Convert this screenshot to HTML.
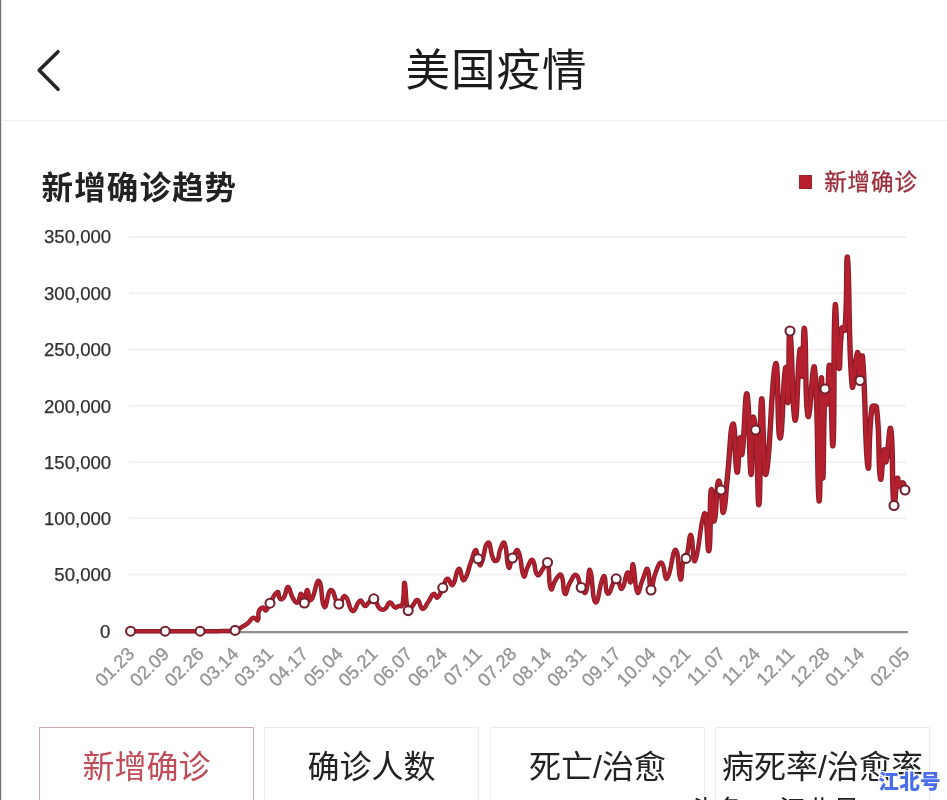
<!DOCTYPE html>
<html lang="zh-CN">
<head>
<meta charset="utf-8">
<title>美国疫情</title>
<style>
html,body{margin:0;padding:0;background:#fff;}
body{width:947px;height:800px;position:relative;overflow:hidden;font-family:"Liberation Sans","Noto Sans CJK SC",sans-serif;color:#222;}
.abs{position:absolute;white-space:nowrap;}
#leftedge{left:0;top:0;width:3px;height:800px;background:linear-gradient(90deg,#6e6e6e 0,#757575 1px,#dcdcdc 1.4px,#f6f6f6 2.2px,#fff 3px);}
#hdr{left:0;top:0;width:947px;height:120px;border-bottom:1.4px solid #eeeeee;}
#title{left:0;width:947px;top:39.1px;text-align:center;font-size:44.5px;line-height:64px;font-weight:400;color:#1c1c1c;letter-spacing:1px;padding-left:46px;box-sizing:border-box;}
#ctitle{left:41.6px;top:164.4px;font-size:31.5px;line-height:48px;font-weight:700;color:#222;letter-spacing:1.1px;}
#legend{left:824.2px;top:165.2px;font-size:22.5px;line-height:36px;color:#9a2d3a;letter-spacing:0.9px;-webkit-text-stroke:0.3px #9a2d3a;}
#legsq{left:798.6px;top:175.3px;width:13.5px;height:13.8px;background:#b8202e;box-shadow:inset 0 0 0 1px #a3212d;}
.tab{top:727px;height:90px;width:213px;border:1px solid #ececec;box-sizing:content-box;text-align:center;font-size:32px;line-height:78.6px;color:#222;background:#fff;}
.tab.on{border-color:#d3a8aa;color:#bf4c56;}
#wm{left:878.3px;top:764.8px;font-size:20.6px;line-height:34px;font-weight:900;color:#4a6eea;letter-spacing:0.3px;text-shadow:1.2px 0 0 #fff,-1.2px 0 0 #fff,0 1.2px 0 #fff,0 -1.2px 0 #fff,0.9px 0.9px 0 #fff,-0.9px 0.9px 0 #fff,0.9px -0.9px 0 #fff,-0.9px -0.9px 0 #fff;}
#foot{left:690px;top:793px;font-size:27px;line-height:36px;color:#222;}
svg{position:absolute;left:0;top:0;}
.yl{font-size:18.6px;fill:#2f2f2f;stroke:#2f2f2f;stroke-width:0.25px;text-anchor:end;font-family:"Liberation Sans",sans-serif;}
.xl{font-size:18.5px;fill:#959595;stroke:#959595;stroke-width:0.35px;text-anchor:end;font-family:"Liberation Sans",sans-serif;}
</style>
</head>
<body>
<div class="abs" id="hdr"></div>
<div class="abs" id="leftedge"></div>
<div class="abs" id="title">美国疫情</div>
<div class="abs" id="ctitle">新增确诊趋势</div>
<div class="abs" id="legsq"></div>
<div class="abs" id="legend">新增确诊</div>

<svg width="947" height="800" viewBox="0 0 947 800">
  <path d="M58 51.7 L39.2 70.2 L58 89.3" fill="none" stroke="#262626" stroke-width="3.6" stroke-linecap="round" stroke-linejoin="round"/>
  <g stroke="#f1f1f1" stroke-width="2">
    <line x1="129" x2="906" y1="237" y2="237"/>
    <line x1="129" x2="906" y1="293.3" y2="293.3"/>
    <line x1="129" x2="906" y1="349.5" y2="349.5"/>
    <line x1="129" x2="906" y1="405.8" y2="405.8"/>
    <line x1="129" x2="906" y1="462.3" y2="462.3"/>
    <line x1="129" x2="906" y1="518.3" y2="518.3"/>
    <line x1="129" x2="906" y1="574.6" y2="574.6"/>
  </g>
  <line x1="129" x2="908" y1="632.2" y2="632.2" stroke="#8e8e8e" stroke-width="2.3"/>
  <g class="yl">
    <text x="111.2" y="243.4">350,000</text>
    <text x="111.2" y="299.7">300,000</text>
    <text x="111.2" y="355.9">250,000</text>
    <text x="111.2" y="412.5">200,000</text>
    <text x="111.2" y="468.9">150,000</text>
    <text x="111.2" y="525.1">100,000</text>
    <text x="111.2" y="581.4">50,000</text>
    <text x="110.4" y="638.3">0</text>
  </g>
  <g class="xl">
    <text x="135.5" y="655.0" transform="rotate(-45 135.5 655.0)">01.23</text>
    <text x="170.3" y="655.0" transform="rotate(-45 170.3 655.0)">02.09</text>
    <text x="205.0" y="655.0" transform="rotate(-45 205.0 655.0)">02.26</text>
    <text x="239.8" y="655.0" transform="rotate(-45 239.8 655.0)">03.14</text>
    <text x="274.5" y="655.0" transform="rotate(-45 274.5 655.0)">03.31</text>
    <text x="309.3" y="655.0" transform="rotate(-45 309.3 655.0)">04.17</text>
    <text x="344.1" y="655.0" transform="rotate(-45 344.1 655.0)">05.04</text>
    <text x="378.8" y="655.0" transform="rotate(-45 378.8 655.0)">05.21</text>
    <text x="413.6" y="655.0" transform="rotate(-45 413.6 655.0)">06.07</text>
    <text x="448.3" y="655.0" transform="rotate(-45 448.3 655.0)">06.24</text>
    <text x="483.1" y="655.0" transform="rotate(-45 483.1 655.0)">07.11</text>
    <text x="517.9" y="655.0" transform="rotate(-45 517.9 655.0)">07.28</text>
    <text x="552.6" y="655.0" transform="rotate(-45 552.6 655.0)">08.14</text>
    <text x="587.4" y="655.0" transform="rotate(-45 587.4 655.0)">08.31</text>
    <text x="622.1" y="655.0" transform="rotate(-45 622.1 655.0)">09.17</text>
    <text x="656.9" y="655.0" transform="rotate(-45 656.9 655.0)">10.04</text>
    <text x="691.7" y="655.0" transform="rotate(-45 691.7 655.0)">10.21</text>
    <text x="726.4" y="655.0" transform="rotate(-45 726.4 655.0)">11.07</text>
    <text x="761.2" y="655.0" transform="rotate(-45 761.2 655.0)">11.24</text>
    <text x="795.9" y="655.0" transform="rotate(-45 795.9 655.0)">12.11</text>
    <text x="830.7" y="655.0" transform="rotate(-45 830.7 655.0)">12.28</text>
    <text x="865.5" y="655.0" transform="rotate(-45 865.5 655.0)">01.14</text>
    <text x="910.5" y="655.0" transform="rotate(-45 910.5 655.0)">02.05</text>

  </g>
  <g fill="none" stroke-linejoin="round" stroke-linecap="round">
    <path d="M130.6 631.2C130.6 631.2 138.8 631.2 147.0 631.2C156.1 631.2 156.1 631.2 165.2 631.2C173.6 631.2 173.6 631.2 182.0 631.2C191.1 631.2 191.1 631.2 200.1 631.2C209.1 631.2 209.1 631.2 218.0 631.2C226.6 631.0 226.9 631.2 235.1 630.4C239.4 629.6 239.2 628.5 243.1 626.3C245.4 625.0 245.5 625.1 247.5 623.5C250.7 620.8 250.3 618.7 253.6 617.7C255.5 617.1 256.9 621.4 257.8 620.2C259.6 618.0 257.3 615.0 259.0 611.0C260.0 608.7 261.2 607.8 263.2 607.6C264.6 607.5 264.8 611.1 265.9 610.4C268.2 608.9 267.8 606.7 270.0 603.2C273.6 597.5 274.2 593.5 277.5 592.0C279.2 591.2 278.0 597.0 280.0 598.8C281.1 599.7 282.7 599.0 283.8 597.5C286.7 593.1 285.8 587.0 288.0 587.0C290.2 587.0 289.6 592.7 292.5 597.5C294.3 600.5 295.7 603.3 297.5 602.5C299.9 601.4 299.3 593.6 301.0 593.8C302.8 593.9 303.1 603.8 304.4 603.0C306.1 601.9 305.2 590.8 307.0 590.0C308.5 589.3 309.0 601.5 311.0 600.0C314.9 597.0 315.9 579.5 318.8 581.0C322.6 583.0 320.8 604.3 324.4 607.0C326.9 608.8 327.2 590.8 331.0 590.0C334.4 589.3 334.4 602.1 338.8 604.0C341.4 605.2 342.4 594.9 345.0 596.2C349.4 598.4 348.5 609.8 352.8 611.0C356.1 611.9 356.3 602.1 360.2 600.5C362.4 599.6 362.5 605.4 365.0 606.0C366.8 606.4 366.8 604.1 368.8 602.5C371.2 600.5 371.8 597.7 373.8 598.8C377.4 600.8 376.0 605.2 380.0 608.8C381.7 610.2 383.1 610.0 385.0 608.8C388.1 606.8 387.3 602.8 390.0 602.5C392.3 602.2 392.2 606.4 395.0 607.5C396.7 608.2 396.9 606.5 399.0 606.0C400.5 605.6 401.9 607.0 402.2 605.6C404.7 595.4 403.3 581.7 404.6 582.8C406.3 584.2 405.0 601.1 408.2 610.6C408.9 612.7 410.4 608.4 412.5 606.0C415.1 603.1 415.3 599.4 417.5 600.0C420.3 600.8 419.7 608.5 422.5 608.8C425.3 609.0 425.8 605.0 428.8 601.0C431.4 597.5 431.0 594.8 433.8 593.8C435.4 593.1 436.0 598.5 437.5 597.5C440.5 595.5 440.1 592.6 442.8 587.8C445.1 583.3 444.8 579.5 447.5 578.8C449.6 578.1 450.7 586.6 452.5 585.0C456.4 581.6 455.5 570.2 458.8 568.8C461.1 567.7 461.4 581.4 463.8 580.0C467.6 577.7 467.5 570.6 471.2 561.2C473.5 555.6 473.7 550.7 475.6 550.0C477.0 549.5 476.6 554.5 478.0 558.8C479.1 562.0 479.5 566.8 480.6 565.0C484.5 558.7 484.3 543.9 488.0 542.5C490.9 541.4 489.8 552.7 493.8 560.0C494.6 561.5 496.7 561.3 497.5 560.0C499.8 556.3 498.1 554.7 500.0 550.0C501.5 546.2 503.3 540.8 504.4 543.0C507.7 549.6 505.9 562.2 508.8 567.5C509.9 569.7 510.1 562.4 512.5 558.0C514.7 554.0 516.5 548.2 518.0 550.6C522.2 557.4 520.3 570.0 523.8 576.2C525.0 578.5 525.3 571.7 527.5 567.5C529.6 563.5 530.7 558.6 532.5 560.0C535.7 562.4 534.0 572.7 537.5 575.0C539.6 576.4 540.7 571.3 543.8 567.5C545.7 565.1 546.8 560.5 547.5 562.5C550.4 571.2 547.9 583.3 551.0 589.0C552.3 591.4 552.9 583.3 556.2 578.8C558.1 576.3 560.2 573.2 561.2 575.0C564.5 580.7 562.3 591.5 565.0 593.8C566.7 595.2 566.9 587.7 570.0 582.5C572.5 578.4 573.9 573.9 576.2 575.0C579.5 576.4 578.1 581.6 581.2 587.5C582.8 590.4 584.6 594.5 585.6 592.5C589.0 585.7 587.9 567.9 590.0 570.0C592.9 572.9 591.9 600.8 595.6 602.5C598.7 603.9 600.0 578.9 603.8 576.2C606.2 574.5 604.8 593.1 608.0 593.8C611.0 594.4 612.1 580.2 616.2 578.8C619.0 577.7 619.6 590.0 621.9 588.8C625.3 586.9 624.8 574.4 627.5 572.5C629.1 571.3 629.6 584.0 630.6 582.5C632.3 579.9 631.7 562.4 633.0 564.4C635.1 567.4 634.3 587.2 637.5 592.5C639.0 595.0 639.9 586.2 642.5 580.0C644.9 574.4 646.0 567.2 647.5 569.0C650.2 572.2 648.8 588.9 651.0 590.0C652.8 590.9 652.3 581.1 655.5 573.0C657.6 567.5 659.2 561.6 661.6 562.8C664.9 564.4 664.4 580.9 666.9 578.6C671.4 574.4 672.2 549.5 675.6 549.7C679.0 549.9 678.1 577.7 680.5 579.5C682.3 580.9 681.6 565.3 684.0 556.0C684.3 554.8 685.6 559.6 686.0 558.4C689.1 549.0 688.8 534.2 690.9 534.8C693.2 535.5 692.5 564.7 694.9 561.0C699.3 554.2 700.5 516.8 704.5 513.8" stroke="#8c1b28" stroke-width="4.5"/>
    <path d="M704.5 513.8C707.5 511.5 707.6 555.0 708.9 550.5C711.0 543.1 709.5 499.7 711.2 490.0C712.1 485.0 712.6 522.8 714.2 521.0C716.2 518.7 715.5 494.4 718.3 481.7C718.9 478.9 720.3 485.7 721.0 490.0C722.8 500.9 722.2 514.7 723.4 512.0C725.4 507.7 725.5 494.0 727.5 476.0C730.3 450.0 730.5 425.0 733.0 424.0C735.3 423.0 735.0 467.9 737.0 472.0C738.5 474.9 738.3 444.1 740.0 438.0C740.8 435.1 741.3 458.6 742.0 454.0C744.8 436.6 745.1 389.7 747.0 394.0C749.6 399.7 749.2 466.9 751.0 474.0C752.2 478.9 751.1 436.0 753.0 418.0C753.4 414.0 755.2 423.9 755.6 430.0C758.2 466.9 757.8 510.4 759.0 504.0C760.8 494.9 759.6 407.7 761.6 399.0C763.1 392.7 763.2 481.1 766.0 474.0C770.2 463.6 771.4 374.8 775.6 364.0C778.4 356.8 777.4 437.0 780.0 438.0C782.4 439.0 782.9 380.1 785.6 368.0C786.9 362.1 787.3 408.0 788.0 402.0C789.5 389.5 788.4 327.0 790.0 331.0C791.9 336.0 792.2 414.7 795.0 420.0C797.2 424.2 797.4 366.0 800.0 350.0C800.9 344.0 801.2 379.7 802.0 376.0C803.4 369.2 803.4 322.0 804.5 329.0C806.4 342.0 804.8 403.5 808.0 416.0C809.8 423.0 813.0 356.7 814.5 368.0C818.5 399.2 817.2 498.4 819.0 501.0C820.7 503.4 820.4 384.3 821.4 378.0C822.3 372.8 821.8 475.1 822.8 478.0C823.6 480.6 823.2 420.6 825.0 389.0C825.3 383.6 826.4 407.3 827.0 404.0C828.6 395.8 828.5 359.4 829.5 366.0C831.5 379.8 832.0 455.7 833.0 444.8C834.8 425.7 833.1 332.5 835.2 306.0C836.1 294.1 836.9 361.3 839.0 368.0C840.3 372.3 839.2 345.4 842.0 328.0C842.2 326.4 844.9 331.7 845.0 330.0C847.6 296.2 846.1 257.0 847.4 257.0C849.7 274.9 848.2 348.2 852.2 386.0C853.2 395.9 855.3 354.0 857.4 352.5C859.2 351.3 858.6 379.3 860.0 380.5C861.2 381.5 861.8 349.4 862.5 357.0C865.8 392.6 864.9 450.6 868.0 467.0C869.7 475.9 868.0 435.2 872.0 407.5C872.3 405.4 876.2 405.4 876.5 407.5C880.5 440.9 877.8 463.4 880.5 478.5C881.6 484.6 882.0 456.0 884.0 450.0C884.8 447.5 885.1 464.4 886.0 461.6C888.5 453.9 889.5 422.4 890.7 429.0C893.5 444.3 891.5 487.2 894.0 505.5C894.9 512.0 895.2 486.1 897.4 478.5C898.0 476.3 897.9 484.6 899.7 486.0C900.7 486.8 902.0 482.2 903.0 483.0C904.6 484.2 905.0 490.0 905.0 490.0" stroke="#8c1b28" stroke-width="5.4"/>
    <path d="M130.6 631.2C130.6 631.2 138.8 631.2 147.0 631.2C156.1 631.2 156.1 631.2 165.2 631.2C173.6 631.2 173.6 631.2 182.0 631.2C191.1 631.2 191.1 631.2 200.1 631.2C209.1 631.2 209.1 631.2 218.0 631.2C226.6 631.0 226.9 631.2 235.1 630.4C239.4 629.6 239.2 628.5 243.1 626.3C245.4 625.0 245.5 625.1 247.5 623.5C250.7 620.8 250.3 618.7 253.6 617.7C255.5 617.1 256.9 621.4 257.8 620.2C259.6 618.0 257.3 615.0 259.0 611.0C260.0 608.7 261.2 607.8 263.2 607.6C264.6 607.5 264.8 611.1 265.9 610.4C268.2 608.9 267.8 606.7 270.0 603.2C273.6 597.5 274.2 593.5 277.5 592.0C279.2 591.2 278.0 597.0 280.0 598.8C281.1 599.7 282.7 599.0 283.8 597.5C286.7 593.1 285.8 587.0 288.0 587.0C290.2 587.0 289.6 592.7 292.5 597.5C294.3 600.5 295.7 603.3 297.5 602.5C299.9 601.4 299.3 593.6 301.0 593.8C302.8 593.9 303.1 603.8 304.4 603.0C306.1 601.9 305.2 590.8 307.0 590.0C308.5 589.3 309.0 601.5 311.0 600.0C314.9 597.0 315.9 579.5 318.8 581.0C322.6 583.0 320.8 604.3 324.4 607.0C326.9 608.8 327.2 590.8 331.0 590.0C334.4 589.3 334.4 602.1 338.8 604.0C341.4 605.2 342.4 594.9 345.0 596.2C349.4 598.4 348.5 609.8 352.8 611.0C356.1 611.9 356.3 602.1 360.2 600.5C362.4 599.6 362.5 605.4 365.0 606.0C366.8 606.4 366.8 604.1 368.8 602.5C371.2 600.5 371.8 597.7 373.8 598.8C377.4 600.8 376.0 605.2 380.0 608.8C381.7 610.2 383.1 610.0 385.0 608.8C388.1 606.8 387.3 602.8 390.0 602.5C392.3 602.2 392.2 606.4 395.0 607.5C396.7 608.2 396.9 606.5 399.0 606.0C400.5 605.6 401.9 607.0 402.2 605.6C404.7 595.4 403.3 581.7 404.6 582.8C406.3 584.2 405.0 601.1 408.2 610.6C408.9 612.7 410.4 608.4 412.5 606.0C415.1 603.1 415.3 599.4 417.5 600.0C420.3 600.8 419.7 608.5 422.5 608.8C425.3 609.0 425.8 605.0 428.8 601.0C431.4 597.5 431.0 594.8 433.8 593.8C435.4 593.1 436.0 598.5 437.5 597.5C440.5 595.5 440.1 592.6 442.8 587.8C445.1 583.3 444.8 579.5 447.5 578.8C449.6 578.1 450.7 586.6 452.5 585.0C456.4 581.6 455.5 570.2 458.8 568.8C461.1 567.7 461.4 581.4 463.8 580.0C467.6 577.7 467.5 570.6 471.2 561.2C473.5 555.6 473.7 550.7 475.6 550.0C477.0 549.5 476.6 554.5 478.0 558.8C479.1 562.0 479.5 566.8 480.6 565.0C484.5 558.7 484.3 543.9 488.0 542.5C490.9 541.4 489.8 552.7 493.8 560.0C494.6 561.5 496.7 561.3 497.5 560.0C499.8 556.3 498.1 554.7 500.0 550.0C501.5 546.2 503.3 540.8 504.4 543.0C507.7 549.6 505.9 562.2 508.8 567.5C509.9 569.7 510.1 562.4 512.5 558.0C514.7 554.0 516.5 548.2 518.0 550.6C522.2 557.4 520.3 570.0 523.8 576.2C525.0 578.5 525.3 571.7 527.5 567.5C529.6 563.5 530.7 558.6 532.5 560.0C535.7 562.4 534.0 572.7 537.5 575.0C539.6 576.4 540.7 571.3 543.8 567.5C545.7 565.1 546.8 560.5 547.5 562.5C550.4 571.2 547.9 583.3 551.0 589.0C552.3 591.4 552.9 583.3 556.2 578.8C558.1 576.3 560.2 573.2 561.2 575.0C564.5 580.7 562.3 591.5 565.0 593.8C566.7 595.2 566.9 587.7 570.0 582.5C572.5 578.4 573.9 573.9 576.2 575.0C579.5 576.4 578.1 581.6 581.2 587.5C582.8 590.4 584.6 594.5 585.6 592.5C589.0 585.7 587.9 567.9 590.0 570.0C592.9 572.9 591.9 600.8 595.6 602.5C598.7 603.9 600.0 578.9 603.8 576.2C606.2 574.5 604.8 593.1 608.0 593.8C611.0 594.4 612.1 580.2 616.2 578.8C619.0 577.7 619.6 590.0 621.9 588.8C625.3 586.9 624.8 574.4 627.5 572.5C629.1 571.3 629.6 584.0 630.6 582.5C632.3 579.9 631.7 562.4 633.0 564.4C635.1 567.4 634.3 587.2 637.5 592.5C639.0 595.0 639.9 586.2 642.5 580.0C644.9 574.4 646.0 567.2 647.5 569.0C650.2 572.2 648.8 588.9 651.0 590.0C652.8 590.9 652.3 581.1 655.5 573.0C657.6 567.5 659.2 561.6 661.6 562.8C664.9 564.4 664.4 580.9 666.9 578.6C671.4 574.4 672.2 549.5 675.6 549.7C679.0 549.9 678.1 577.7 680.5 579.5C682.3 580.9 681.6 565.3 684.0 556.0C684.3 554.8 685.6 559.6 686.0 558.4C689.1 549.0 688.8 534.2 690.9 534.8C693.2 535.5 692.5 564.7 694.9 561.0C699.3 554.2 700.5 516.8 704.5 513.8" stroke="#b5202e" stroke-width="2.5"/>
    <path d="M704.5 513.8C707.5 511.5 707.6 555.0 708.9 550.5C711.0 543.1 709.5 499.7 711.2 490.0C712.1 485.0 712.6 522.8 714.2 521.0C716.2 518.7 715.5 494.4 718.3 481.7C718.9 478.9 720.3 485.7 721.0 490.0C722.8 500.9 722.2 514.7 723.4 512.0C725.4 507.7 725.5 494.0 727.5 476.0C730.3 450.0 730.5 425.0 733.0 424.0C735.3 423.0 735.0 467.9 737.0 472.0C738.5 474.9 738.3 444.1 740.0 438.0C740.8 435.1 741.3 458.6 742.0 454.0C744.8 436.6 745.1 389.7 747.0 394.0C749.6 399.7 749.2 466.9 751.0 474.0C752.2 478.9 751.1 436.0 753.0 418.0C753.4 414.0 755.2 423.9 755.6 430.0C758.2 466.9 757.8 510.4 759.0 504.0C760.8 494.9 759.6 407.7 761.6 399.0C763.1 392.7 763.2 481.1 766.0 474.0C770.2 463.6 771.4 374.8 775.6 364.0C778.4 356.8 777.4 437.0 780.0 438.0C782.4 439.0 782.9 380.1 785.6 368.0C786.9 362.1 787.3 408.0 788.0 402.0C789.5 389.5 788.4 327.0 790.0 331.0C791.9 336.0 792.2 414.7 795.0 420.0C797.2 424.2 797.4 366.0 800.0 350.0C800.9 344.0 801.2 379.7 802.0 376.0C803.4 369.2 803.4 322.0 804.5 329.0C806.4 342.0 804.8 403.5 808.0 416.0C809.8 423.0 813.0 356.7 814.5 368.0C818.5 399.2 817.2 498.4 819.0 501.0C820.7 503.4 820.4 384.3 821.4 378.0C822.3 372.8 821.8 475.1 822.8 478.0C823.6 480.6 823.2 420.6 825.0 389.0C825.3 383.6 826.4 407.3 827.0 404.0C828.6 395.8 828.5 359.4 829.5 366.0C831.5 379.8 832.0 455.7 833.0 444.8C834.8 425.7 833.1 332.5 835.2 306.0C836.1 294.1 836.9 361.3 839.0 368.0C840.3 372.3 839.2 345.4 842.0 328.0C842.2 326.4 844.9 331.7 845.0 330.0C847.6 296.2 846.1 257.0 847.4 257.0C849.7 274.9 848.2 348.2 852.2 386.0C853.2 395.9 855.3 354.0 857.4 352.5C859.2 351.3 858.6 379.3 860.0 380.5C861.2 381.5 861.8 349.4 862.5 357.0C865.8 392.6 864.9 450.6 868.0 467.0C869.7 475.9 868.0 435.2 872.0 407.5C872.3 405.4 876.2 405.4 876.5 407.5C880.5 440.9 877.8 463.4 880.5 478.5C881.6 484.6 882.0 456.0 884.0 450.0C884.8 447.5 885.1 464.4 886.0 461.6C888.5 453.9 889.5 422.4 890.7 429.0C893.5 444.3 891.5 487.2 894.0 505.5C894.9 512.0 895.2 486.1 897.4 478.5C898.0 476.3 897.9 484.6 899.7 486.0C900.7 486.8 902.0 482.2 903.0 483.0C904.6 484.2 905.0 490.0 905.0 490.0" stroke="#b5202e" stroke-width="3.3"/>
  </g>
  <g fill="#fff" stroke="#75202e" stroke-width="2.1"><circle cx="130.6" cy="631.2" r="4.5"/><circle cx="165.2" cy="631.2" r="4.5"/><circle cx="200.1" cy="631.2" r="4.5"/><circle cx="235.1" cy="630.4" r="4.5"/><circle cx="270.0" cy="603.2" r="4.5"/><circle cx="304.4" cy="603.0" r="4.5"/><circle cx="338.8" cy="604.0" r="4.5"/><circle cx="373.8" cy="598.8" r="4.5"/><circle cx="408.2" cy="610.6" r="4.5"/><circle cx="442.8" cy="587.8" r="4.5"/><circle cx="478.0" cy="558.8" r="4.5"/><circle cx="512.5" cy="558.0" r="4.5"/><circle cx="547.5" cy="562.5" r="4.5"/><circle cx="581.2" cy="587.5" r="4.5"/><circle cx="616.2" cy="578.8" r="4.5"/><circle cx="651.0" cy="590.0" r="4.5"/><circle cx="686.0" cy="558.4" r="4.5"/><circle cx="721.0" cy="490.0" r="4.5"/><circle cx="755.6" cy="430.0" r="4.5"/><circle cx="790.0" cy="331.0" r="4.5"/><circle cx="825.0" cy="389.0" r="4.5"/><circle cx="860.0" cy="380.5" r="4.5"/><circle cx="894.0" cy="505.5" r="4.5"/><circle cx="905.0" cy="490.0" r="4.5"/></g>
</svg>

<div class="abs tab on" style="left:39px">新增确诊</div>
<div class="abs tab" style="left:264px">确诊人数</div>
<div class="abs tab" style="left:490px">死亡/治愈</div>
<div class="abs tab" style="left:715px">病死率/治愈率</div>
<div class="abs" id="foot">头条 @江北号</div>
<div class="abs" id="wm">江北号</div>
</body>
</html>
